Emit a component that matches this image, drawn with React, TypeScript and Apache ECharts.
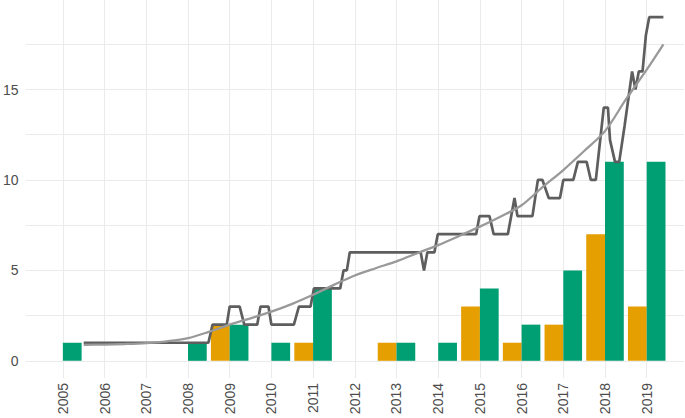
import React, { useEffect, useRef } from "react";
import * as echarts from "echarts";

// Tick labels
const yearTicks = [2005, 2006, 2007, 2008, 2009, 2010, 2011, 2012, 2013, 2014, 2015, 2016, 2017, 2018, 2019];
const yLabelTicks = [0, 5, 10, 15];
const yGridTicks = [0, 2.5, 5, 7.5, 10, 12.5, 15, 17.5];

// Bars (year, count)
const orangeBars: [number, number][] = [
  [2009, 2], [2011, 1], [2013, 1], [2015, 3], [2016, 1], [2017, 2], [2018, 7], [2019, 3],
];
const greenBars: [number, number][] = [
  [2005, 1], [2008, 1], [2009, 2], [2010, 1], [2011, 4], [2013, 1], [2014, 1],
  [2015, 4], [2016, 2], [2017, 5], [2018, 11], [2019, 11],
];

// Dark stepped line (time, value)
const stepLine: [number, number][] = [
  [2005.5, 1], [2008.49, 1], [2008.59, 2], [2008.93, 2], [2009.0, 3], [2009.24, 3],
  [2009.35, 2], [2009.66, 2], [2009.74, 3], [2009.93, 3], [2010.0, 2], [2010.54, 2],
  [2010.66, 3], [2010.94, 3], [2011.02, 4], [2011.65, 4], [2011.73, 5], [2011.81, 5],
  [2011.88, 6], [2013.58, 6], [2013.66, 5], [2013.74, 6], [2013.91, 6], [2013.99, 7],
  [2014.91, 7], [2014.99, 8], [2015.23, 8], [2015.33, 7], [2015.67, 7], [2015.83, 9],
  [2015.9, 8], [2016.26, 8], [2016.39, 10], [2016.5, 10], [2016.65, 9], [2016.92, 9],
  [2017.0, 10], [2017.24, 10], [2017.35, 11], [2017.56, 11], [2017.66, 10], [2017.78, 10],
  [2017.97, 14], [2018.07, 14], [2018.12, 12.2], [2018.24, 11], [2018.34, 11],
  [2018.47, 13], [2018.65, 16], [2018.73, 15], [2018.81, 16], [2018.9, 16],
  [2018.98, 18], [2019.06, 19], [2019.4, 19],
];

// Light smooth trend curve (time, value)
const trendCurve: [number, number][] = [
  [2005.5, 0.88], [2006.0, 0.9], [2006.5, 0.93], [2007.0, 0.98], [2007.5, 1.08],
  [2008.0, 1.25], [2008.5, 1.6], [2009.0, 2.0], [2009.5, 2.35], [2010.0, 2.72],
  [2010.5, 3.15], [2011.0, 3.65], [2011.5, 4.2], [2012.0, 4.72], [2012.5, 5.12],
  [2013.0, 5.5], [2013.5, 5.95], [2014.0, 6.4], [2014.5, 6.9], [2015.0, 7.42],
  [2015.5, 7.98], [2016.0, 8.6], [2016.5, 9.6], [2017.0, 10.55], [2017.5, 11.6],
  [2018.0, 12.7], [2018.5, 14.45], [2019.0, 16.1], [2019.4, 17.5],
];

const HALF = 0.45;

function barRenderer(offsetStart: number, color: string) {
  return (params: any, api: any) => {
    const x = api.value(0);
    const v = api.value(1);
    const p1 = api.coord([x + offsetStart, v]);
    const p2 = api.coord([x + offsetStart + HALF, 0]);
    return {
      type: "rect",
      shape: { x: p1[0], y: p1[1], width: p2[0] - p1[0], height: p2[1] - p1[1] },
      style: { fill: color },
    };
  };
}

export default function App() {
  const ref = useRef<HTMLDivElement>(null);
  useEffect(() => {
    if (!ref.current) return;
    const chart = echarts.init(ref.current, undefined, { renderer: "svg" });
    const labelStyle = { color: "#4d4d4d", fontSize: 14, fontFamily: "Liberation Sans, Arial, sans-serif" };
    chart.setOption({
      animation: false,
      backgroundColor: "#ffffff",
      grid: { left: 22, right: 1, top: 0, bottom: 40, containLabel: false },
      xAxis: {
        type: "value",
        min: 2004.106,
        max: 2019.894,
        axisLine: { show: false },
        axisTick: { show: false, customValues: yearTicks },
        axisLabel: {
          ...labelStyle,
          customValues: yearTicks,
          rotate: 90,
          margin: 5,
          formatter: (v: number) => String(v),
        },
        splitLine: { show: true, lineStyle: { color: "#ebebeb", width: 1.1 } },
      },
      yAxis: {
        type: "value",
        min: -0.95,
        max: 19.95,
        axisLine: { show: false },
        axisTick: { show: false, customValues: yGridTicks },
        axisLabel: {
          ...labelStyle,
          customValues: yLabelTicks,
          margin: 7,
          formatter: (v: number) => String(v),
        },
        splitLine: { show: true, lineStyle: { color: "#ebebeb", width: 1.1 } },
      },
      series: [
        {
          type: "custom",
          renderItem: barRenderer(-HALF, "#E69F00"),
          data: orangeBars,
          encode: { x: 0, y: 1 },
          z: 2,
        },
        {
          type: "custom",
          renderItem: barRenderer(0, "#009E73"),
          data: greenBars,
          encode: { x: 0, y: 1 },
          z: 2,
        },
        {
          type: "line",
          data: stepLine,
          showSymbol: false,
          symbol: "none",
          lineStyle: { color: "#5e5e5e", width: 2.7 },
          z: 3,
        },
        {
          type: "line",
          data: trendCurve,
          showSymbol: false,
          symbol: "none",
          smooth: 0.3,
          lineStyle: { color: "#999999", width: 2.3 },
          z: 4,
        },
      ],
    });
    return () => chart.dispose();
  }, []);
  return <div ref={ref} style={{ width: 685, height: 418, position: "absolute", left: 0, top: 0 }} />;
}
